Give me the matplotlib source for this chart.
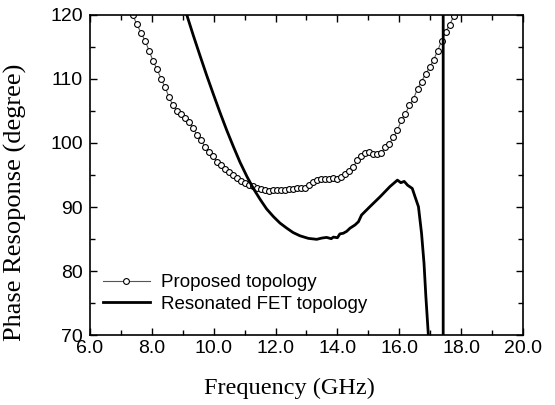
import matplotlib
matplotlib.use("Agg")
import matplotlib.pyplot as plt
from matplotlib.ticker import MultipleLocator, FormatStrFormatter

# proposed topology (measured, open circles)
freq_prop = [7.38, 7.51, 7.65, 7.79, 7.91, 8.04, 8.17, 8.30, 8.43, 8.55, 8.68, 8.81,
             8.94, 9.07, 9.20, 9.33, 9.46, 9.59, 9.72, 9.85, 9.98, 10.11, 10.24, 10.36,
             10.49, 10.62, 10.75, 10.88, 11.01, 11.14, 11.27, 11.40, 11.53, 11.66, 11.79,
             11.92, 12.05, 12.18, 12.30, 12.43, 12.56, 12.69, 12.82, 12.95, 13.08, 13.21,
             13.34, 13.47, 13.60, 13.73, 13.86, 13.99, 14.12, 14.25, 14.38, 14.51, 14.64,
             14.77, 14.90, 15.03, 15.16, 15.29, 15.42, 15.55, 15.68, 15.81, 15.94, 16.07,
             16.20, 16.33, 16.46, 16.59, 16.72, 16.85, 16.98, 17.11, 17.24, 17.37, 17.50,
             17.63, 17.76, 17.89]
phase_prop = [120.0, 118.6, 117.2, 115.9, 114.4, 112.8, 111.5, 110.0, 108.7, 107.2, 105.9, 105.0,
              104.5, 103.9, 103.3, 102.3, 101.3, 100.4, 99.4, 98.6, 97.9, 97.1, 96.5, 95.9,
              95.4, 95.0, 94.5, 94.1, 93.8, 93.5, 93.3, 93.0, 92.8, 92.7, 92.55,
              92.6, 92.6, 92.6, 92.65, 92.75, 92.85, 92.95, 93.0, 93.0, 93.4, 93.85,
              94.15, 94.4, 94.45, 94.45, 94.6, 94.35, 94.65, 95.1, 95.7, 96.25, 97.3,
              97.95, 98.4, 98.55, 98.3, 98.3, 98.5, 99.3, 99.9, 100.9, 102.0, 103.6,
              104.6, 105.9, 106.9, 108.5, 109.6, 110.8, 111.8, 113.0, 114.4, 116.0, 117.4,
              118.5, 119.8, 121.2]

# resonated FET topology (solid thick line, wraps at ~17.4 GHz)
freq_fet = [9.05, 9.13, 9.34, 9.56, 9.77, 9.99, 10.20, 10.42, 10.63, 10.85, 11.07, 11.28,
            11.50, 11.71, 11.93, 12.14, 12.36, 12.57, 12.79, 13.06, 13.33, 13.50, 13.65,
            13.80, 13.87, 14.00, 14.08, 14.19, 14.30, 14.41, 14.57, 14.68, 14.78, 15.05,
            15.38, 15.70, 15.94, 16.05, 16.16, 16.27, 16.42, 16.51, 16.62, 16.72, 16.80,
            16.86, 16.94, 17.00, 17.42, 17.42, 18.00]
phase_fet = [121.2, 120.0, 116.8, 113.6, 110.6, 107.6, 104.8, 102.0, 99.5, 97.0, 94.8, 92.9,
             91.2, 89.7, 88.5, 87.5, 86.7, 86.0, 85.5, 85.1, 84.95, 85.15, 85.25,
             85.05, 85.3, 85.2, 85.8, 85.9, 86.2, 86.7, 87.2, 87.7, 88.75, 90.05,
             91.6, 93.2, 94.2, 93.8, 94.0, 93.4, 92.9, 91.6, 90.05, 85.9, 81.2,
             76.0, 70.0, 62.0, -178.0, 178.0, 165.0]

labels = ["Proposed topology", "Resonated FET topology"]


def main() -> None:
    plt.rcParams["font.family"] = ["Liberation Sans", "DejaVu Sans"]
    fig = plt.figure(figsize=(5.55, 4.05), dpi=100)
    ax = fig.add_axes([0.1622, 0.1728, 0.7801, 0.7902])

    ax.plot(freq_prop, phase_prop, color="#555555", lw=0.8, marker="o", ms=4.2,
            mfc="white", mec="black", mew=0.8, label=labels[0])
    ax.plot(freq_fet, phase_fet, color="black", lw=2.0, label=labels[1])

    ax.set_xlim(6, 20); ax.set_ylim(70, 120)
    ax.xaxis.set_major_locator(MultipleLocator(2)); ax.xaxis.set_minor_locator(MultipleLocator(1))
    ax.yaxis.set_major_locator(MultipleLocator(10)); ax.yaxis.set_minor_locator(MultipleLocator(5))
    ax.xaxis.set_major_formatter(FormatStrFormatter("%.1f"))
    ax.tick_params(which="both", direction="in", top=True, right=True, width=1.0, labelsize=14)
    ax.tick_params(which="major", length=5)
    ax.tick_params(which="minor", length=3.5)
    ax.tick_params(axis="x", which="major", pad=3.5)
    ax.tick_params(axis="y", which="major", pad=5)
    for sp in ax.spines.values():
        sp.set_linewidth(1.2)

    ax.set_xlabel("Frequency (GHz)", family="Liberation Serif", fontsize=17.5)
    ax.set_ylabel("Phase Resoponse (degree)", family="Liberation Serif", fontsize=19)
    ax.xaxis.set_label_coords(0.46, -0.135)
    ax.yaxis.set_label_coords(-0.145, 0.415)

    ax.legend(loc="lower left", bbox_to_anchor=(0.03, 0.07), frameon=False, fontsize=13.5,
              borderpad=0, borderaxespad=0, handlelength=2.5, handletextpad=0.6,
              labelspacing=0.22)

    fig.savefig("out.png", dpi=100)
    plt.close(fig)


if __name__ == "__main__":
    main()
